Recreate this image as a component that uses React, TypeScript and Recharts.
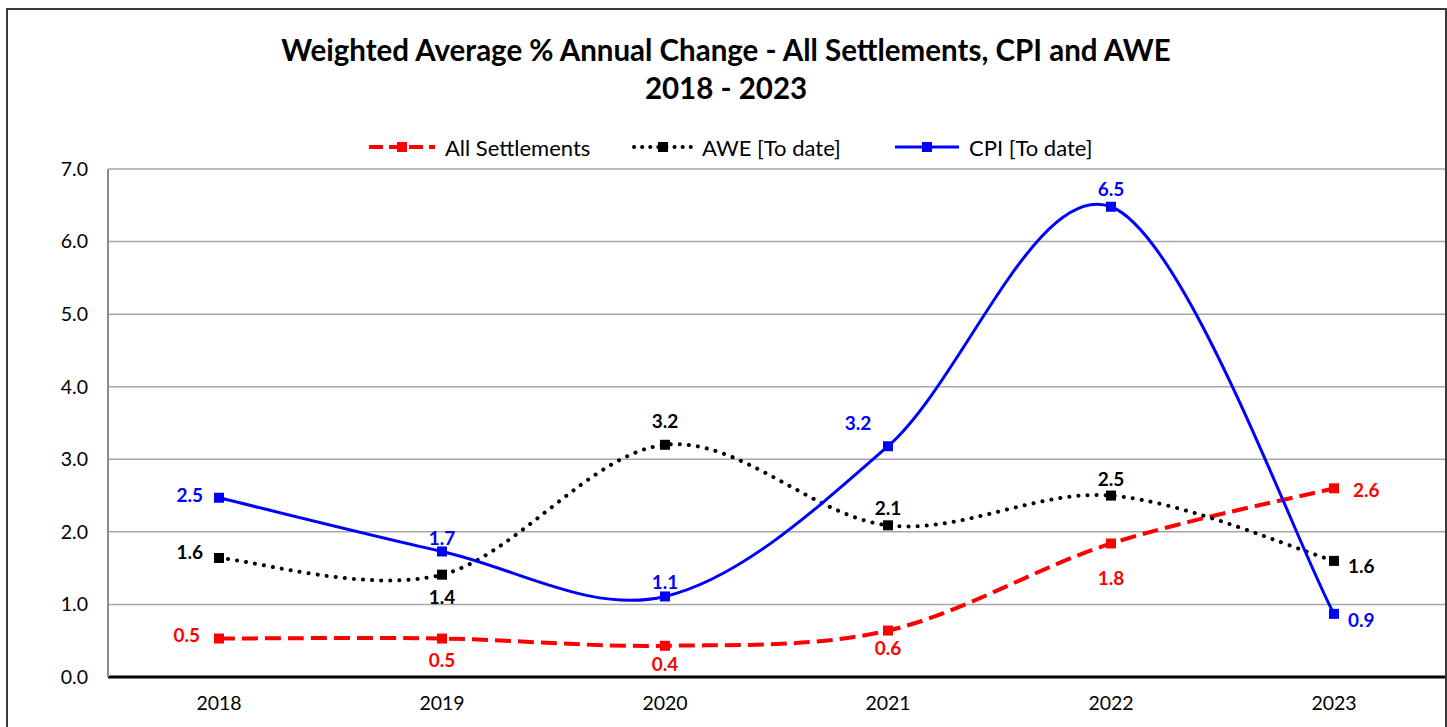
import { LineChart, Line, XAxis, YAxis, CartesianGrid, LabelList } from 'recharts';

const years = ['2018', '2019', '2020', '2021', '2022', '2023'];
const settlements = [0.53, 0.53, 0.43, 0.64, 1.84, 2.6];
const awe = [1.64, 1.41, 3.2, 2.09, 2.5, 1.6];
const cpi = [2.47, 1.73, 1.11, 3.18, 6.48, 0.87];
const yTicks = [0, 1, 2, 3, 4, 5, 6, 7];

const data = years.map((year, i) => ({
  year,
  settlements: settlements[i],
  awe: awe[i],
  cpi: cpi[i],
}));

// label placement per point: [dx, dy, anchor]
type Place = [number, number, 'start' | 'middle' | 'end'];
const settlementsPlace: Place[] = [
  [-19, -4, 'end'],
  [0, 21, 'middle'],
  [0, 18, 'middle'],
  [0, 17, 'middle'],
  [0, 34, 'middle'],
  [19, 1, 'start'],
];
const awePlace: Place[] = [
  [-16, -6, 'end'],
  [0, 22, 'middle'],
  [0, -24, 'middle'],
  [0, -18, 'middle'],
  [0, -17, 'middle'],
  [14, 5, 'start'],
];
const cpiPlace: Place[] = [
  [-16, -3, 'end'],
  [0, -14, 'middle'],
  [0, -15, 'middle'],
  [-30, -24, 'middle'],
  [0, -18, 'middle'],
  [14, 6, 'start'],
];

const FONT = 'Lato, "Open Sans", sans-serif';

// Excel style smoothed line (Catmull-Rom as cubic Bezier)
const excelCurve = (context: any) => {
  let pts: number[][] = [];
  return {
    areaStart() {},
    areaEnd() {},
    lineStart() {
      pts = [];
    },
    point(x: number, y: number) {
      pts.push([+x, +y]);
    },
    lineEnd() {
      const n = pts.length;
      if (!n) return;
      context.moveTo(pts[0][0], pts[0][1]);
      for (let i = 0; i < n - 1; i++) {
        const p0 = pts[Math.max(i - 1, 0)];
        const p1 = pts[i];
        const p2 = pts[i + 1];
        const p3 = pts[Math.min(i + 2, n - 1)];
        context.bezierCurveTo(
          p1[0] + (p2[0] - p0[0]) / 6,
          p1[1] + (p2[1] - p0[1]) / 6,
          p2[0] - (p3[0] - p1[0]) / 6,
          p2[1] - (p3[1] - p1[1]) / 6,
          p2[0],
          p2[1]
        );
      }
    },
  };
};

const SquareDot = (color: string) => (props: any) => {
  const { cx, cy, index } = props;
  if (cx == null || cy == null) return <g key={index} />;
  return <rect key={index} x={cx - 5} y={cy - 5} width={10} height={10} fill={color} />;
};

const makeLabel = (color: string, places: Place[]) => (props: any) => {
  const { x, y, value, index } = props;
  const [dx, dy, anchor] = places[index];
  return (
    <text
      x={x + dx}
      y={y + dy}
      textAnchor={anchor}
      dominantBaseline="central"
      fill={color}
      fontFamily={FONT}
      fontWeight="bold"
      fontSize={19}
    >
      {Number(value).toFixed(1)}
    </text>
  );
};

const legendItems = [
  { name: 'All Settlements', color: '#ff0000', dash: '14 6', width: 4, cap: 'butt', left: 367, iconW: 70 },
  { name: 'AWE [To date]', color: '#000000', dash: '0.1 8', width: 4, cap: 'round', left: 632, iconW: 62 },
  { name: 'CPI [To date]', color: '#0000ff', dash: undefined, width: 3, cap: 'butt', left: 893, iconW: 68 },
];

const LegendRow = () => (
  <>
    {legendItems.map((it) => (
      <div
        key={it.name}
        style={{
          position: 'absolute',
          left: it.left,
          top: 134,
          height: 26,
          display: 'flex',
          alignItems: 'center',
          gap: 8,
          fontFamily: FONT,
          fontSize: 22,
          whiteSpace: 'nowrap',
        }}
      >
        <svg width={it.iconW} height={14}>
          <line
            x1={2}
            y1={7}
            x2={it.iconW - 2}
            y2={7}
            stroke={it.color}
            strokeWidth={it.width}
            strokeDasharray={it.dash}
            strokeLinecap={it.cap as any}
          />
          <rect x={it.iconW / 2 - 5} y={2} width={10} height={10} fill={it.color} />
        </svg>
        <span style={{ color: '#000' }}>{it.name}</span>
      </div>
    ))}
  </>
);

export default function App() {
  return (
    <div style={{ position: 'absolute', left: 0, top: 0, width: 1447, height: 727, background: '#fff', overflow: 'hidden' }}>
      <div
        style={{
          position: 'absolute',
          left: 6,
          top: 8,
          width: 1437,
          height: 740,
          border: '2px solid #3a3a3a',
        }}
      />
      <div
        style={{
          position: 'absolute',
          left: 0,
          top: 31,
          width: 1452,
          textAlign: 'center',
          fontFamily: FONT,
          fontWeight: 'bold',
          fontSize: 29.5,
          lineHeight: '38px',
          color: '#000',
        }}
      >
        Weighted Average % Annual Change - All Settlements, CPI and AWE
        <br />
        2018 - 2023
      </div>
      <LegendRow />
      <div style={{ position: 'absolute', left: 0, top: 0 }}>
        <LineChart width={1447} height={727} data={data} margin={{ top: 169, right: 2, bottom: 10, left: 48 }}>
          <CartesianGrid vertical={false} stroke="#a6a6a6" strokeWidth={1.5} />
          <XAxis
            dataKey="year"
            padding={{ left: 111, right: 111 }}
            tickSize={0}
            tickMargin={19}
            height={40}
            axisLine={{ stroke: '#000', strokeWidth: 3 }}
            tick={{ fill: '#000', fontFamily: FONT, fontSize: 19.5 }}
          />
          <YAxis
            domain={[0, 7]}
            ticks={yTicks}
            width={60}
            tickSize={0}
            tickMargin={20}
            axisLine={{ stroke: '#8c8c8c', strokeWidth: 2 }}
            tickFormatter={(v: number) => v.toFixed(1)}
            tick={{ fill: '#000', fontFamily: FONT, fontSize: 19.5 }}
          />
          <Line
            dataKey="settlements"
            name="All Settlements"
            type={excelCurve as any}
            stroke="#ff0000"
            strokeWidth={4}
            strokeDasharray="16 7"
            dot={SquareDot('#ff0000')}
            activeDot={false}
            isAnimationActive={false}
          >
            <LabelList dataKey="settlements" content={makeLabel('#ff0000', settlementsPlace)} />
          </Line>
          <Line
            dataKey="awe"
            name="AWE [To date]"
            type={excelCurve as any}
            stroke="#000000"
            strokeWidth={4}
            strokeDasharray="0.1 9"
            strokeLinecap="round"
            dot={SquareDot('#000000')}
            activeDot={false}
            isAnimationActive={false}
          >
            <LabelList dataKey="awe" content={makeLabel('#000000', awePlace)} />
          </Line>
          <Line
            dataKey="cpi"
            name="CPI [To date]"
            type={excelCurve as any}
            stroke="#0000ff"
            strokeWidth={3}
            dot={SquareDot('#0000ff')}
            activeDot={false}
            isAnimationActive={false}
          >
            <LabelList dataKey="cpi" content={makeLabel('#0000ff', cpiPlace)} />
          </Line>
        </LineChart>
      </div>
    </div>
  );
}
